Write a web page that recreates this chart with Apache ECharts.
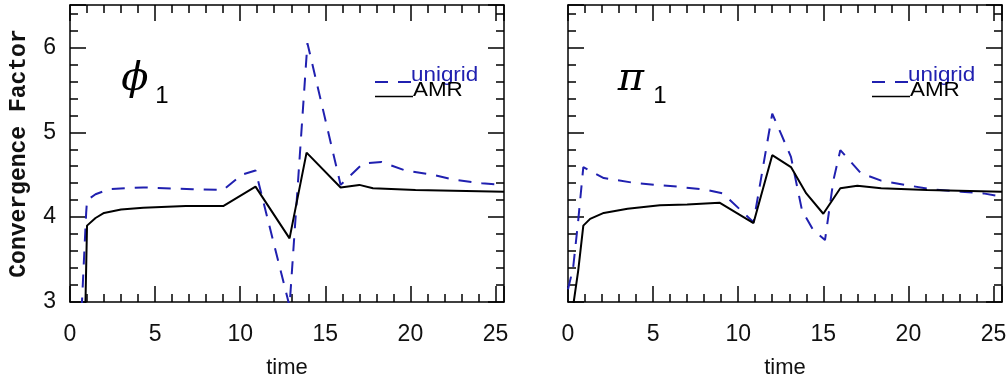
<!DOCTYPE html>
<html>
<head>
<meta charset="utf-8">
<script src="https://cdn.jsdelivr.net/npm/echarts@6/dist/echarts.min.js"></script>
<style>
  html, body { margin: 0; padding: 0; background: #ffffff; }
  #chart { width: 1008px; height: 383px; }
</style>
</head>
<body>
<div id="chart"></div>
<script>
// Convergence factor vs. time for the two fields (phi_1 and pi_1)
const phiUnigridTime = [0.68, 0.95, 1.0, 1.5, 2.3, 4.3, 7.2, 9.0, 10.1, 10.9, 12.9, 13.95, 15.9, 17.2, 18.3, 19.7, 21.3, 22.6, 24.2, 25.5];
const phiUnigridVal  = [2.9, 4.05, 4.2, 4.27, 4.33, 4.35, 4.33, 4.32, 4.5, 4.55, 2.95, 6.05, 4.38, 4.63, 4.65, 4.55, 4.5, 4.44, 4.4, 4.38];
const phiAmrTime = [0.9, 1.0, 1.5, 2.0, 3.0, 4.3, 6.8, 9.0, 10.9, 12.9, 13.9, 15.9, 17.0, 17.8, 20.3, 25.5];
const phiAmrVal  = [2.9, 3.9, 3.99, 4.05, 4.09, 4.11, 4.13, 4.13, 4.36, 3.75, 4.76, 4.35, 4.38, 4.34, 4.32, 4.3];

const piUnigridTime = [0.0, 0.3, 0.6, 0.9, 2.1, 4.0, 6.4, 8.2, 9.1, 10.9, 12.0, 12.5, 13.1, 13.75, 14.4, 15.1, 15.6, 16.0, 17.2, 18.4, 20.1, 21.3, 23.1, 24.4, 25.5];
const piUnigridVal  = [3.15, 3.4, 3.96, 4.59, 4.46, 4.4, 4.36, 4.32, 4.28, 3.94, 5.22, 4.99, 4.71, 4.08, 3.85, 3.73, 4.44, 4.79, 4.52, 4.43, 4.37, 4.33, 4.3, 4.28, 4.24];
const piAmrTime = [0.3, 0.6, 0.9, 1.3, 2.1, 3.5, 5.4, 7.0, 8.9, 10.9, 12.0, 13.1, 14.0, 15.0, 16.0, 17.0, 18.4, 21.1, 25.5];
const piAmrVal  = [2.95, 3.37, 3.9, 3.98, 4.05, 4.1, 4.14, 4.15, 4.17, 3.93, 4.73, 4.59, 4.28, 4.04, 4.34, 4.37, 4.34, 4.32, 4.3];

const seriesNames = ['unigrid', 'AMR'];
const panelLabels = ['ϕ', 'π'];
const xAxisName = 'time';
const yAxisName = 'Convergence Factor';

const BLUE = '#2020b0';
const SANS = '"Liberation Sans", Arial, sans-serif';
const DASH = [13, 10];

const pair = (ts, vs) => ts.map((t, i) => [t, vs[i]]);

const grids = [
  { left: 70, top: 5, width: 434, height: 297, outerBoundsMode: 'none', containLabel: false },
  { left: 568, top: 5, width: 434, height: 297, outerBoundsMode: 'none', containLabel: false }
];

function xAxis(gridIndex, position, labels) {
  return {
    type: 'value', gridIndex, position,
    min: 0, max: 25.5, interval: 5,
    name: labels ? xAxisName : '',
    nameLocation: 'middle', nameGap: 55, nameMoveOverlap: false,
    nameTextStyle: { fontFamily: SANS, fontSize: 22, color: '#111' },
    axisLine: { show: true, onZero: false, lineStyle: { color: '#000', width: 1.5 } },
    axisTick: { show: true, inside: true, length: 16, lineStyle: { color: '#000', width: 1.5 } },
    minorTick: { show: true, splitNumber: 5, length: 8, lineStyle: { color: '#000', width: 1.5 } },
    splitLine: { show: false },
    axisLabel: {
      show: labels, margin: 21, fontFamily: SANS, fontSize: 23, color: '#111',
      formatter: v => (v % 5 === 0 ? String(v) : '')
    }
  };
}

function yAxis(gridIndex, position, labels, named) {
  return {
    type: 'value', gridIndex, position,
    min: 3, max: 6.5, interval: 1,
    name: named ? yAxisName : '',
    nameLocation: 'middle', nameGap: 39, nameRotate: 90, nameMoveOverlap: false,
    nameTextStyle: { fontFamily: '"Liberation Mono", monospace', fontWeight: 'bold', fontSize: 23, color: '#111' },
    axisLine: { show: true, onZero: false, lineStyle: { color: '#000', width: 1.5 } },
    axisTick: { show: true, inside: true, length: 16, lineStyle: { color: '#000', width: 1.5 } },
    minorTick: { show: true, splitNumber: 5, length: 8, lineStyle: { color: '#000', width: 1.5 } },
    splitLine: { show: false },
    axisLabel: {
      show: labels, margin: 14, fontFamily: SANS, fontSize: 23, color: '#111',
      formatter: v => (v % 1 === 0 ? String(v) : '')
    }
  };
}

function lineSeries(name, data, axisIdx, dashed) {
  return {
    type: 'line', name, data,
    xAxisIndex: axisIdx, yAxisIndex: axisIdx,
    symbol: 'none', smooth: false, clip: true,
    lineStyle: { color: dashed ? BLUE : '#000', width: 2, type: dashed ? DASH : 'solid' },
    emphasis: { disabled: true },
    z: dashed ? 2 : 3
  };
}

// Key drawn inside each panel: sample stroke sitting on the text baseline
function key(left) {
  const txt = (text, x, y, color) => ({
    type: 'text', x, y, scaleX: 1.12,
    style: { text, font: '20px ' + SANS, fill: color, align: 'left', verticalAlign: 'middle' }
  });
  return [
    { type: 'line', shape: { x1: left, y1: 82, x2: left + 36, y2: 82 }, style: { stroke: BLUE, lineWidth: 2, lineDash: DASH } },
    txt(seriesNames[0], left + 36, 75, BLUE),
    { type: 'line', shape: { x1: left, y1: 96.5, x2: left + 38, y2: 96.5 }, style: { stroke: '#000', lineWidth: 1.5 } },
    txt(seriesNames[1], left + 38, 90, '#000')
  ];
}

function panelTitle(sym, cx, sub) {
  return [
    { type: 'text', x: cx, y: 80, style: { text: sym, font: 'italic 40px "DejaVu Serif", serif', fill: '#000', align: 'center', verticalAlign: 'middle' } },
    { type: 'text', x: sub, y: 96, style: { text: '1', font: '24px ' + SANS, fill: '#000', align: 'center', verticalAlign: 'middle' } }
  ];
}

const chart = echarts.init(document.getElementById('chart'), null, { renderer: 'canvas' });
chart.setOption({
  animation: false,
  backgroundColor: '#ffffff',
  grid: grids,
  xAxis: [xAxis(0, 'bottom', true), xAxis(0, 'top', false), xAxis(1, 'bottom', true), xAxis(1, 'top', false)],
  yAxis: [yAxis(0, 'left', true, true), yAxis(0, 'right', false, false), yAxis(1, 'left', false, false), yAxis(1, 'right', false, false)],
  graphic: [
    ...panelTitle(panelLabels[0], 135, 162), ...panelTitle(panelLabels[1], 631, 660),
    ...key(375), ...key(872)
  ],
  series: [
    lineSeries(seriesNames[0], pair(phiUnigridTime, phiUnigridVal), 0, true),
    lineSeries(seriesNames[1], pair(phiAmrTime, phiAmrVal), 0, false),
    lineSeries(seriesNames[0], pair(piUnigridTime, piUnigridVal), 2, true),
    lineSeries(seriesNames[1], pair(piAmrTime, piAmrVal), 2, false)
  ]
});
</script>
</body>
</html>
